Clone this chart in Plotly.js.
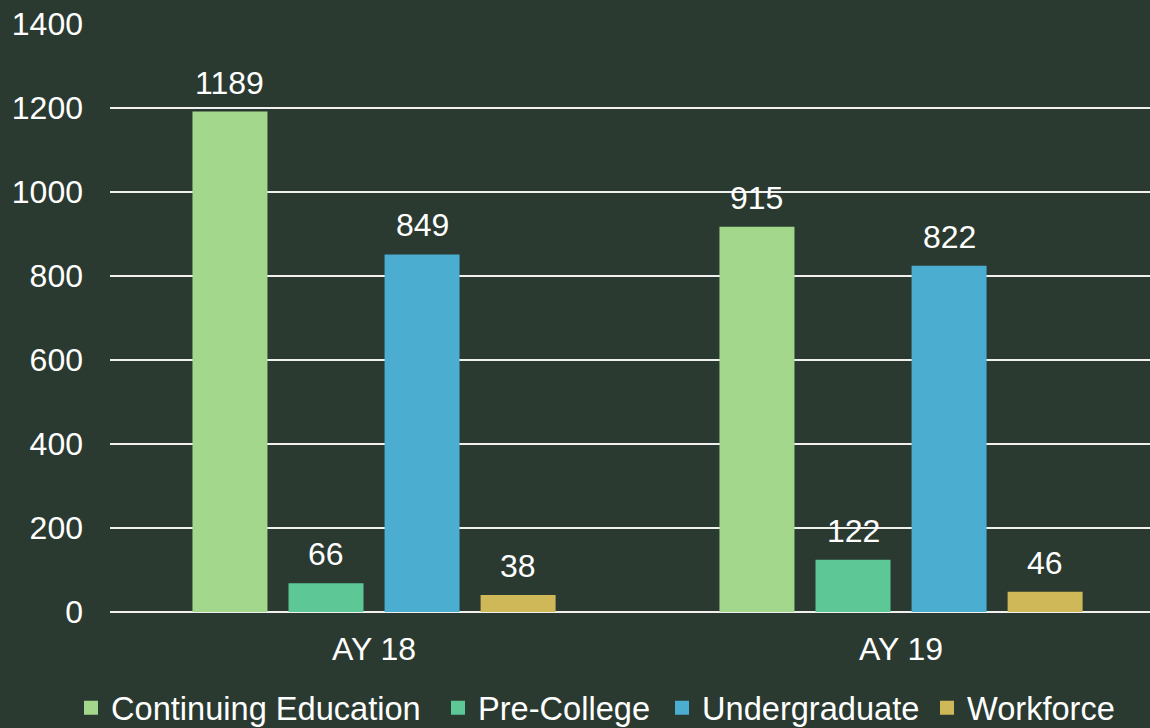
<!DOCTYPE html>
<html>
<head>
<meta charset="utf-8">
<script src="https://cdn.plot.ly/plotly-3.0.1.min.js"></script>
<style>
html,body{margin:0;padding:0;background:#2b3a31;}
#chart{width:1150px;height:728px;}
</style>
</head>
<body>
<div id="chart"></div>
<script>
const categories = ['AY 18', 'AY 19'];
const seriesNames = ['Continuing Education', 'Pre-College', 'Undergraduate', 'Workforce'];
const continuingEducation = [1189, 915];
const preCollege = [66, 122];
const undergraduate = [849, 822];
const workforce = [38, 46];
const yTicks = [0, 200, 400, 600, 800, 1000, 1200, 1400];

const seriesValues = [continuingEducation, preCollege, undergraduate, workforce];
const colors = ['#a2d78c', '#5dc796', '#4badd0', '#cfb857'];
const legendX = [71, 438, 662, 927]; // pixel positions of each legend entry
const FONT = '"Liberation Sans", Arial, sans-serif';
const bargap = 0.271;
const bargroupgap = 0.24;
const W = 1150, H = 728;

const legendIds = ['legend', 'legend2', 'legend3', 'legend4'];

const traces = seriesNames.map((name, i) => ({
  type: 'bar',
  name: name,
  x: categories,
  y: seriesValues[i],
  marker: {color: colors[i], line: {color: colors[i], width: 2}},
  legend: legendIds[i],
  hoverinfo: 'none'
}));

// Data labels positioned via the category axis scale
const annotations = [];
const nS = seriesNames.length;
const slot = (1 - bargap) / nS;
seriesValues.forEach((vals, i) => {
  const off = -(1 - bargap) / 2 + (i + 0.5) * slot;
  vals.forEach((v, c) => {
    annotations.push({
      x: c + off, y: v, xref: 'x', yref: 'y',
      text: String(v), showarrow: false,
      yanchor: 'bottom', xanchor: 'center', yshift: 10,
      font: {family: FONT, size: 32, color: '#ffffff'}
    });
  });
});

const layout = {
  width: W, height: H,
  paper_bgcolor: '#2b3a31', plot_bgcolor: '#2b3a31',
  margin: {l: 110, r: 0, t: 24, b: 116},
  barmode: 'group', bargap: bargap, bargroupgap: bargroupgap,
  font: {family: FONT, color: '#ffffff', size: 32},
  showlegend: true,
  xaxis: {
    type: 'category', range: [-0.501, 1.4724],
    showgrid: false, zeroline: false, showline: false, ticks: '',
    tickfont: {family: FONT, size: 32, color: '#ffffff'},
    ticklabelstandoff: 15, fixedrange: true
  },
  yaxis: {
    range: [0, 1400], tickvals: yTicks, ticktext: yTicks.map(String),
    showgrid: true, gridcolor: '#f0f0f0', gridwidth: 2,
    zeroline: true, zerolinecolor: '#f0f0f0', zerolinewidth: 2,
    showline: false, ticks: '',
    tickfont: {family: FONT, size: 32, color: '#ffffff'},
    ticklabelstandoff: 26, fixedrange: true
  },
  annotations: annotations
};

legendIds.forEach((id, i) => {
  layout[id] = {
    orientation: 'h', xref: 'container', yref: 'container',
    x: legendX[i] / W, xanchor: 'left', y: 20 / H, yanchor: 'middle',
    font: {family: FONT, size: 32.6, color: '#ffffff'},
    bgcolor: 'rgba(0,0,0,0)'
  };
});

Plotly.newPlot('chart', traces, layout, {displayModeBar: false, staticPlot: true});
</script>
</body>
</html>
